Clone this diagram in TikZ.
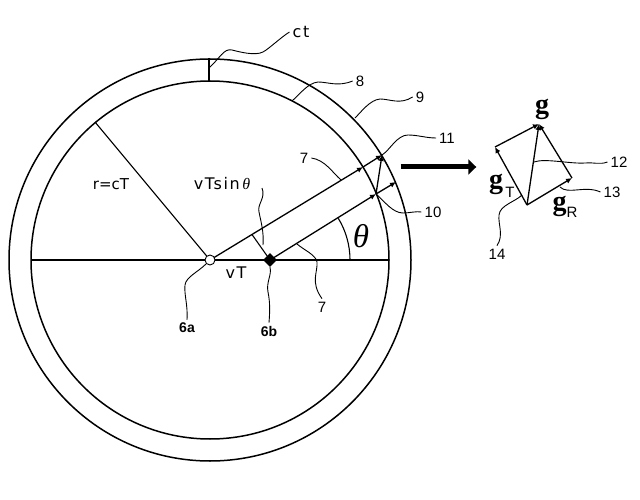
\documentclass[tikz,border=0pt]{standalone}
\usepackage{fontspec}
\setmainfont{Liberation Sans}
\newfontfamily\gfont{Liberation Serif}
\newfontfamily\labfont{DejaVu Sans}
\newfontfamily\widefont[LetterSpace=10]{DejaVu Sans}
\usepackage{tikz}
\usetikzlibrary{arrows.meta}
\usetikzlibrary{shapes,positioning,calc}
\tikzset{
	line/.style={line width=1.5pt},
	thin line/.style={line width=1.1pt},
	vec/.style={line width=1.3pt,-{Latex[length=6pt,width=5.5pt]}},
	lead/.style={line width=0.9pt},
	num/.style={inner sep=3pt,font=\fontsize{15}{15}\selectfont},
	bnum/.style={inner sep=3pt,font=\bfseries\fontsize{14}{14}\selectfont},
	lab/.style={inner sep=0pt,font=\labfont\fontsize{15}{15}\selectfont},
	widelab/.style={inner sep=0pt,font=\widefont\fontsize{16}{16}\selectfont},
	gsym/.style={inner sep=0pt,font=\gfont\bfseries\fontsize{28}{28}\selectfont},
	gsub/.style={inner sep=0pt,font=\fontsize{15}{15}\selectfont}
}
\begin{document}
\begin{tikzpicture}[x=1pt,y=1pt]
	\useasboundingbox (0,0) rectangle (640,-500);
	% ring
	\coordinate (O) at (210,-260);
	\draw[line] (O) circle (201pt);
	\draw[line] (O) circle (179pt);
	\draw[line] (209,-58) -- (209,-82);
	\coordinate (ctend) at (209,-68);
	\coordinate (rend) at (95,-122);
	\coordinate (axl) at (31,-260);
	\coordinate (axr) at (389,-260);
	\coordinate (B) at (270,-260);
	\coordinate (foot) at (252,-234.5);
	\coordinate (up) at (382,-155);
	\coordinate (upin) at (363,-167);
	\coordinate (low) at (396,-182);
	\coordinate (base) at (376,-194);
	% lines
	\draw[thin line] (O) -- (rend);
	\draw[line width=1.9pt] (axl) -- (axr);
	\draw[thin line] (B) -- (foot);
	\draw[vec] (O) -- (upin);
	\draw[vec] (upin) -- (up);
	\draw[vec] (B) -- (base);
	\draw[vec] (base) -- (low);
	\draw[vec] (base) -- (up);
	\draw[thin line] (350,-260) arc (0:31.4:80pt);
	\node[circle,draw,fill=white,line width=0.9pt,inner sep=0pt,minimum size=10pt] (a) at (O) {};
	\node[diamond,fill=black,inner sep=0pt,minimum size=14pt] (b) at (B) {};
	% text
	\node[widelab,inner sep=3pt] (lct) at (301,-32) {ct};
	\node[num] (l8) at (360,-81) {8};
	\node[num] (l9) at (420,-97) {9};
	\node[num] (l11) at (447,-138) {11};
	\node[num] (l7a) at (304,-158) {7};
	\node[num] (l10) at (433,-212) {10};
	\node[num] (l7b) at (322,-307) {7};
	\node[bnum] (l6a) at (187,-328) {6a};
	\node[bnum] (l6b) at (269,-331) {6b};
	\node[lab] (lr) at (111,-184) {r=cT};
	\node[widelab] (lsin) at (222,-184) {vTsin\,{\gfont\itshape θ}};
	\node[widelab] (lvt) at (236,-273) {vT};
	\node[inner sep=0pt,font=\gfont\itshape\fontsize{33}{33}\selectfont] (lth) at (361,-236) {θ};
	\node[num] (l12) at (619,-162) {12};
	\node[num] (l13) at (612,-192) {13};
	\node[num] (l14) at (497,-254) {14};
	% leaders
	\draw[lead] (ctend) .. controls (220,-58) and (224,-48) .. (232,-50) .. controls (240,-52) and (255,-56) .. (263,-52) .. controls (270,-48) and (280,-38) .. (lct.west);
	\draw[lead] (292,-101) .. controls (300,-94) and (308,-83) .. (318,-82) .. controls (328,-82) and (338,-87) .. (l8.west);
	\draw[lead] (355,-118) .. controls (362,-111) and (370,-100) .. (380,-99) .. controls (390,-99) and (400,-105) .. (l9.west);
	\draw[lead] (up) .. controls (390,-150) and (397,-135) .. (408,-135) .. controls (418,-135) and (426,-138) .. (l11.west);
	\draw[lead] (341,-180) .. controls (332,-172) and (325,-160) .. (l7a.east);
	\draw[lead] (base) .. controls (385,-202) and (393,-213) .. (403,-213) .. controls (410,-213) and (416,-211) .. (l10.west);
	\draw[lead] (262,-188) .. controls (266,-198) and (257,-204) .. (259,-212) .. controls (261,-222) and (264,-232) .. (263,-245);
	\draw[lead] (297,-244) .. controls (304,-250) and (316,-255) .. (317,-262) .. controls (318,-272) and (310,-282) .. (l7b.north);
	\draw[lead] (b.south) .. controls (272,-275) and (266,-282) .. (268,-292) .. controls (270,-302) and (270,-310) .. (l6b.north);
	\draw[lead] (a.south west) .. controls (198,-272) and (186,-277) .. (185,-285) .. controls (184,-295) and (188,-305) .. (l6a.north);
	% vectors
	\coordinate (g0) at (527,-205);
	\coordinate (g) at (539,-124);
	\coordinate (gT) at (495,-147);
	\coordinate (gR) at (572,-178);
	\draw[vec] (g0) -- (g);
	\draw[vec] (g0) -- (gT);
	\draw[vec] (g0) -- (gR);
	\draw[vec] (gT) -- (g);
	\draw[vec] (gR) -- (g);
	\node[gsym] (lg) at (542,-109) {g};
	\node[gsym] (lgt) at (496,-184) {g};
	\node[gsub] (lgts) at (510,-192.5) {T};
	\node[gsym] (lgr) at (559.5,-206) {g};
	\node[gsub] (lgrs) at (572,-212) {R};
	\draw[lead] (534,-162) .. controls (545,-158) and (570,-164) .. (585,-163) .. controls (592,-162) and (600,-165) .. (l12.west);
	\draw[lead] (560,-187) .. controls (568,-195) and (585,-185) .. (l13.west);
	\draw[lead] (522,-195) .. controls (515,-202) and (500,-205) .. (499,-215) .. controls (498,-225) and (504,-235) .. (l14.north);
	% big arrow
	\node[inner sep=0pt] (bigs) at (400,-167) {};
	\node[inner sep=0pt] (bige) at (477,-167) {};
	\draw[line width=5pt,-{Triangle[length=8pt,width=15pt]}] (bigs) -- (bige);
\end{tikzpicture}
\end{document}
